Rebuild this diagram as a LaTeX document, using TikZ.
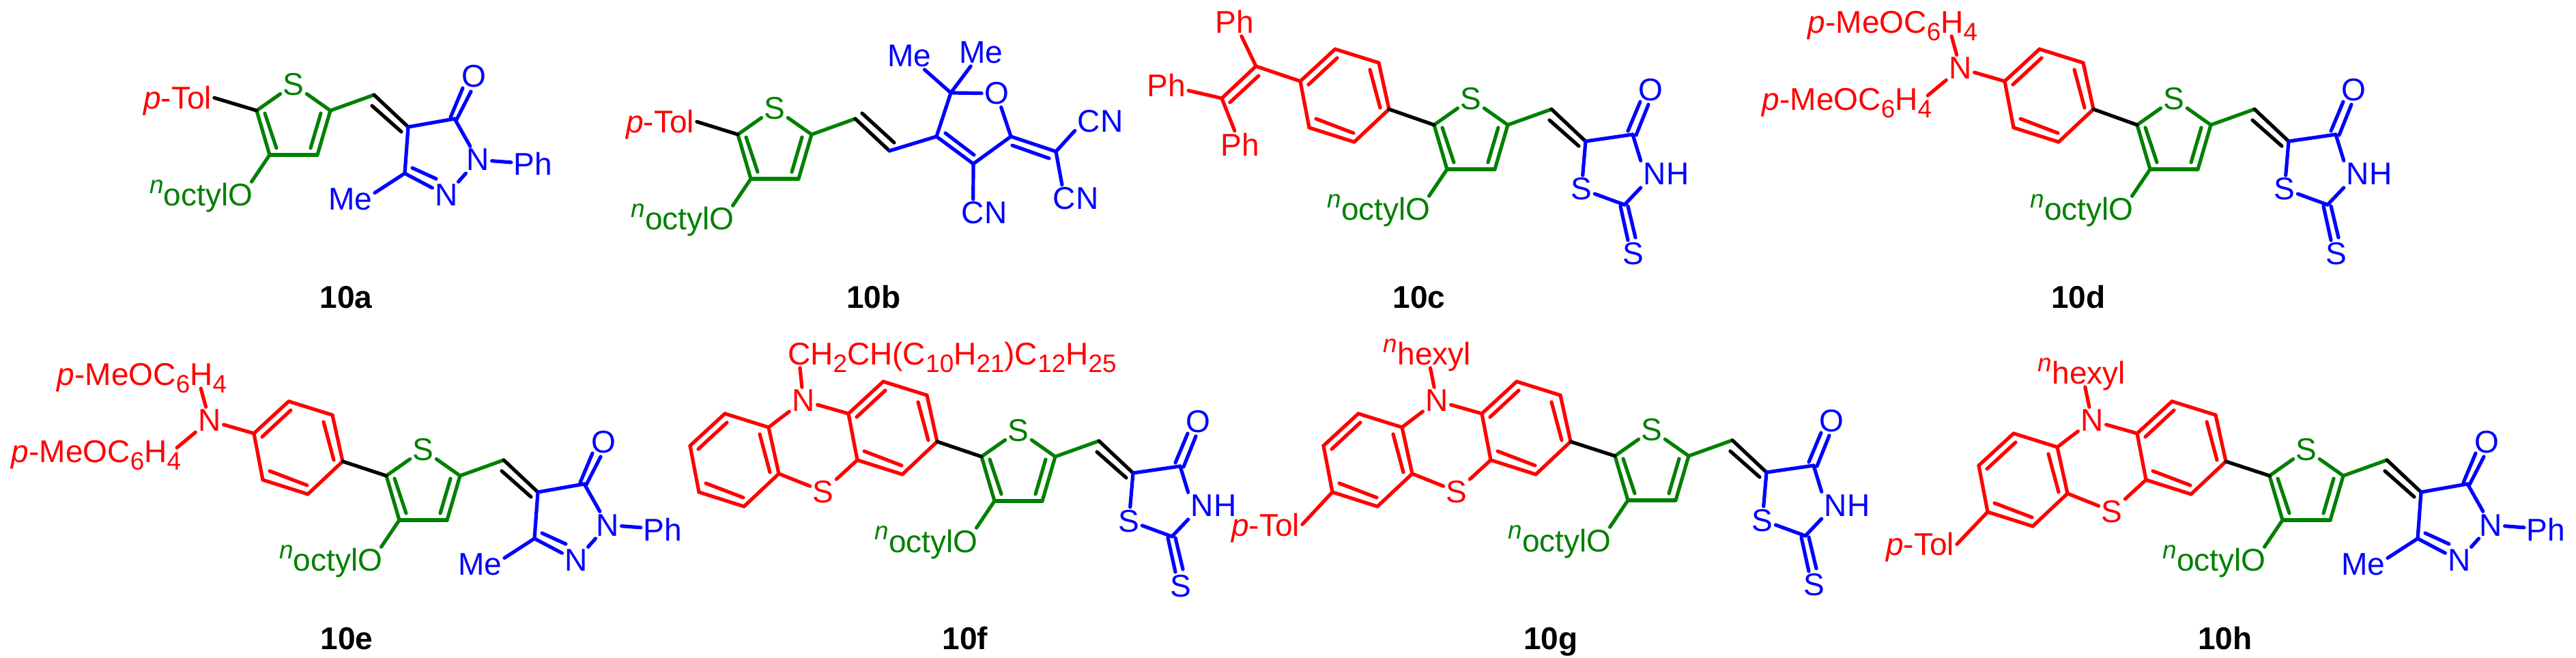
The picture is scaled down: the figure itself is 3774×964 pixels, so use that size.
\documentclass[tikz,border=0pt]{standalone}
\usepackage{fontspec}
\setmainfont{Liberation Sans}
\usepackage{tikz}

\definecolor{thio green}{RGB}{0,128,0}

\tikzset{
	atom label/.style={anchor=base,inner sep=0pt,outer sep=0.04cm,text depth=0pt,font=\fontsize{13.1}{13.1}\selectfont},
	red atom/.style={atom label,text=red},
	green atom/.style={atom label,text=thio green},
	blue atom/.style={atom label,text=blue},
	compound/.style={anchor=base,inner sep=0pt,font=\fontsize{13.1}{13.1}\selectfont\bfseries},
	bond/.style={line width=0.052cm,line cap=round,line join=round},
	red bond/.style={bond,red},
	green bond/.style={bond,thio green},
	blue bond/.style={bond,blue},
	black bond/.style={bond,black}
}

\newcommand{\chemsup}[1]{\raisebox{0.41em}{\fontsize{10.5}{10.5}\selectfont\itshape #1}}
\newcommand{\chemsub}[1]{\raisebox{-0.23em}{\fontsize{10.5}{10.5}\selectfont #1}}

\newcommand{\thienyl}[3]{%
	\begin{scope}[shift={(#2,#3)}]
		\foreach \n/\x/\y in {c2/0/0,c5/108/0,c3/19/65,c4/89/65,ch/172/-23,cq/222/24,p1/12/4,p2/29/55,q1/94/4,q2/79/55}
			\coordinate (#1-\n) at (\x,\y);
		\node[green atom] (#1-s) at (54,-22) {S};
		\node[green atom] (#1-oct) at (-81,140) {\chemsup{n}octylO};
	\end{scope}
	\path[green bond]
	(#1-s) edge (#1-c2)
	(#1-c2) edge (#1-c3)
	(#1-c3) edge (#1-c4)
	(#1-c4) edge (#1-c5)
	(#1-c5) edge (#1-s)
	(#1-p1) edge (#1-p2)
	(#1-q1) edge (#1-q2)
	(#1-c5) edge (#1-ch)
	(#1-c3) edge ([shift={(-6,7)}]#1-oct.north east);
	\path[black bond] (#1-ch) edge (#1-cq);
}

\newcommand{\pyrazolone}[1]{%
	\begin{scope}[shift={(#1-cq)}]
		\foreach \n/\x/\y in {v1/-53/-31,v2/-10/7,r5/68/-12,r3/-5/68,o1/62/-14,o2/80/-57,o3/70/-9,o4/92/-52,i1/6/60,i2/41/76}
			\coordinate (#1-\n) at (\x,\y);
		\node[blue atom] (#1-o) at (96,-58) {O};
		\node[blue atom] (#1-n1) at (102,64) {N};
		\node[blue atom] (#1-n2) at (56,116) {N};
		\node[blue atom] (#1-ph) at (183,71) {Ph};
		\node[blue atom] (#1-me) at (-85,122) {Me};
	\end{scope}
	\path[black bond] (#1-v1) edge (#1-v2);
	\path[blue bond]
	(#1-cq) edge (#1-r5)
	(#1-cq) edge (#1-r3)
	(#1-o1) edge (#1-o2)
	(#1-o3) edge (#1-o4)
	(#1-r5) edge (#1-n1)
	(#1-n1) edge (#1-ph)
	(#1-n2) edge (#1-n1)
	(#1-r3) edge (#1-n2)
	(#1-i1) edge (#1-i2)
	(#1-r3) edge (#1-me.15);
}

\newcommand{\rhodanine}[1]{%
	\begin{scope}[shift={(#1-cq)}]
		\foreach \n/\x/\y in {v1/-53/-31,v2/-10/7,r5/69/-10,r2/57/93,o1/62/-15,o2/80/-58,o3/74/-9,o4/92/-54,t1/51/95,t2/62/145,t3/62/95,t4/73/141}
			\coordinate (#1-\n) at (\x,\y);
		\node[blue atom] (#1-o) at (95,-59) {O};
		\node[blue atom] (#1-nh) at (118,64) {NH};
		\node[blue atom] (#1-s1) at (-6,86) {S};
		\node[blue atom] (#1-s2) at (70,181) {S};
	\end{scope}
	\path[black bond] (#1-v1) edge (#1-v2);
	\path[blue bond]
	(#1-cq) edge (#1-r5)
	(#1-cq) edge (#1-s1)
	(#1-o1) edge (#1-o2)
	(#1-o3) edge (#1-o4)
	(#1-r5) edge (#1-nh.north west)
	(#1-nh.south west) edge (#1-r2)
	(#1-s1) edge (#1-r2)
	(#1-t1) edge (#1-t2)
	(#1-t3) edge (#1-t4);
}

\newcommand{\phenylene}[3]{%
	\begin{scope}[shift={(#2,#3)}]
		\foreach \n/\x/\y in {a/0/0,b/51/-47,c/115/-27,d/130/41,e/79/89,f/13/68,i1/12/5,i2/54/-34,i3/102/-17,i4/117/39,i5/78/76,i6/23/55}
			\coordinate (#1-\n) at (\x,\y);
	\end{scope}
	\path[red bond]
	(#1-a) edge (#1-b)
	(#1-b) edge (#1-c)
	(#1-c) edge (#1-d)
	(#1-d) edge (#1-e)
	(#1-e) edge (#1-f)
	(#1-f) edge (#1-a)
	(#1-i1) edge (#1-i2)
	(#1-i3) edge (#1-i4)
	(#1-i5) edge (#1-i6);
}

\newcommand{\diarylamine}[3]{%
	\phenylene{#1}{#2}{#3}
	\begin{scope}[shift={(#2,#3)}]
		\node[red atom] (#1-n) at (-65,-3) {N};
		\node[red atom] (#1-up) at (-164,-70) {\textit{p}-MeOC\chemsub{6}H\chemsub{4}};
		\node[red atom] (#1-lo) at (-231,43) {\textit{p}-MeOC\chemsub{6}H\chemsub{4}};
	\end{scope}
	\path[red bond]
	(#1-n) edge (#1-a)
	(#1-n) edge ([shift={(-42,0)}]#1-up.south east)
	(#1-n) edge ([shift={(-10,-6)}]#1-lo.east);
}

\newcommand{\phenothiazine}[3]{%
	\phenylene{#1}{#2}{#3}
	\phenylene{#1r}{#2+232}{#3-47}
	\begin{scope}[shift={(#2,#3)}]
		\node[red atom] (#1-n) at (166,-50) {N};
		\node[red atom] (#1-s) at (195,83) {S};
	\end{scope}
	\path[red bond]
	(#1-n) edge (#1-c)
	(#1-n) edge (#1r-a)
	(#1-s) edge (#1-d)
	(#1-s) edge (#1r-f);
}

\begin{document}
\begin{tikzpicture}[x=0.01cm,y=-0.01cm]
		\useasboundingbox (0,0) rectangle (3774,964);

		\foreach \n/\x/\y in {a/507/452,b/1280/452,c/2079/452,d/3045/452,e/508/952,f/1414/952,g/2272/952,h/3260/952}
			\node[compound] (l\n) at (\x,\y) {10\n};

		\thienyl{a}{376}{162}
		\pyrazolone{a}
		\node[red atom] (a-tol) at (260,160) {\textit{p}-Tol};
		\path[black bond] (a-tol.east) edge (a-c2);

		\thienyl{b}{1081}{197}
		\node[red atom] (b-tol) at (967,195) {\textit{p}-Tol};
		\path[black bond] (b-tol.east) edge (b-c2);
		\foreach \n/\x/\y in {v1/1263/166,v2/1310/209,f3/1372/200,f4/1393/136,f2/1481/200,f1/1426/240,x/1547/222,i1/1385/195,i2/1427/227,i3/1483/213,i4/1537/232}
			\coordinate (b-\n) at (\x,\y);
		\node[blue atom] (b-o) at (1460,153) {O};
		\node[blue atom] (b-me1) at (1332,98) {Me};
		\node[blue atom] (b-me2) at (1437,93) {Me};
		\node[blue atom] (b-cn1) at (1442,328) {CN};
		\node[blue atom] (b-cn2) at (1612,194) {CN};
		\node[blue atom] (b-cn3) at (1576,307) {CN};
		\path[black bond] (b-v1) edge (b-v2);
		\path[blue bond]
		(b-cq) edge (b-f3)
		(b-f3) edge (b-f4)
		(b-f4) edge (b-o)
		(b-o) edge (b-f2)
		(b-f2) edge (b-f1)
		(b-f1) edge (b-f3)
		(b-i1) edge (b-i2)
		(b-f2) edge (b-x)
		(b-i3) edge (b-i4)
		(b-f4) edge (b-me1)
		(b-f4) edge (b-me2)
		(b-f1) edge (b-cn1.129)
		(b-x) edge (b-cn2.200)
		(b-x) edge (b-cn3.135);

		\thienyl{c}{2101}{183}
		\rhodanine{c}
		\phenylene{ca}{1905}{119}
		\foreach \n/\x/\y in {v1/1840/97,v2/1790/144,i1/1844/111,i2/1802/150}
			\coordinate (c-\n) at (\x,\y);
		\node[red atom] (c-ph1) at (1809,49) {Ph};
		\node[red atom] (c-ph2) at (1709,142) {Ph};
		\node[red atom] (c-ph3) at (1817,229) {Ph};
		\path[red bond]
		(c-v1) edge (ca-a)
		(c-v1) edge (c-v2)
		(c-i1) edge (c-i2)
		(c-v1) edge (c-ph1)
		(c-v2) edge (c-ph2)
		(c-v2) edge (c-ph3);
		\path[black bond] (ca-d) edge (c-c2);

		\thienyl{d}{3131}{183}
		\rhodanine{d}
		\diarylamine{da}{2937}{119}
		\path[black bond] (da-d) edge (d-c2);

		\thienyl{e}{566}{697}
		\pyrazolone{e}
		\diarylamine{ea}{372}{635}
		\path[black bond] (ea-d) edge (e-c2);

		\thienyl{f}{1438}{669}
		\rhodanine{f}
		\phenothiazine{fa}{1011}{653}
		\node[red atom,anchor=base west] (f-alk) at (1150,535) {CH\chemsub{2}CH(C\chemsub{10}H\chemsub{21})C\chemsub{12}H\chemsub{25}};
		\path[red bond] (fa-n) edge ([shift={(22,0)}]f-alk.south west);
		\path[black bond] (far-d) edge (f-c2);

		\thienyl{g}{2366}{668}
		\rhodanine{g}
		\phenothiazine{ga}{1939}{653}
		\node[red atom] (g-hex) at (2091,535) {\chemsup{n}hexyl};
		\node[red atom] (g-tol) at (1854,785) {\textit{p}-Tol};
		\path[red bond]
		(ga-n) edge (g-hex)
		(ga-f) edge (g-tol.east);
		\path[black bond] (gar-d) edge (g-c2);

		\thienyl{h}{3325}{697}
		\pyrazolone{h}
		\phenothiazine{ha}{2899}{682}
		\node[red atom] (h-hex) at (3050,563) {\chemsup{n}hexyl};
		\node[red atom] (h-tol) at (2813,814) {\textit{p}-Tol};
		\path[red bond]
		(ha-n) edge (h-hex)
		(ha-f) edge (h-tol.east);
		\path[black bond] (har-d) edge (h-c2);
	\end{tikzpicture}
\end{document}
